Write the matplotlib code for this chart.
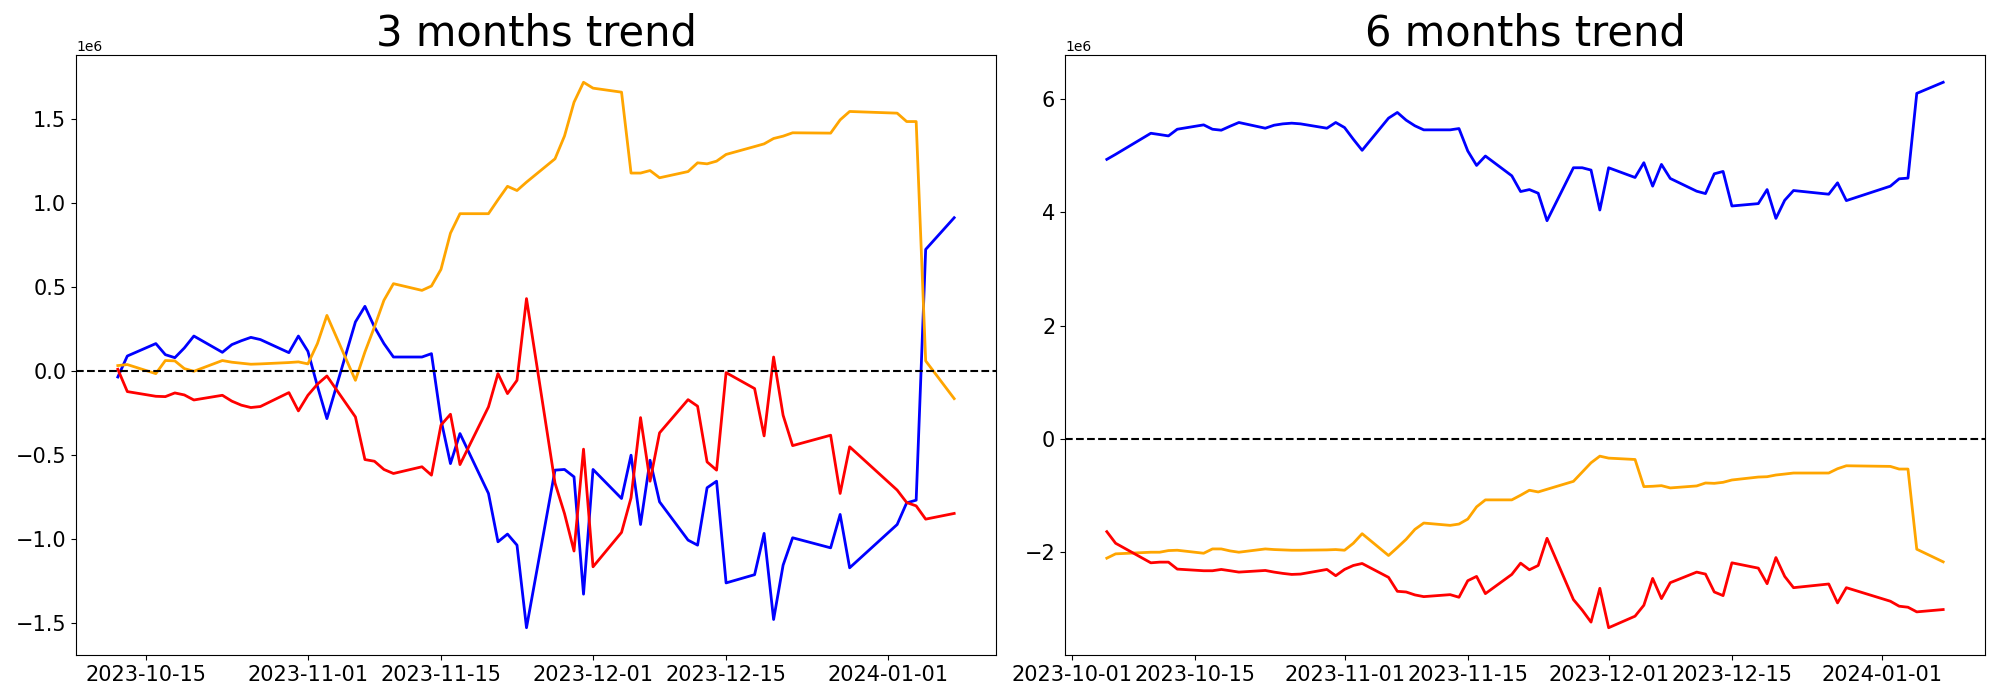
import matplotlib
matplotlib.use("Agg")
import matplotlib.pyplot as plt
import numpy as np
import pandas as pd

# ---------------- data (values in millions) ----------------
dates_3m = [
    "2023-10-12", "2023-10-13", "2023-10-16", "2023-10-17", "2023-10-18", "2023-10-19", "2023-10-20",
    "2023-10-23", "2023-10-24", "2023-10-25", "2023-10-26", "2023-10-27", "2023-10-30", "2023-10-31",
    "2023-11-01", "2023-11-02", "2023-11-03", "2023-11-06", "2023-11-07", "2023-11-08", "2023-11-09",
    "2023-11-10", "2023-11-13", "2023-11-14", "2023-11-15", "2023-11-16", "2023-11-17", "2023-11-20",
    "2023-11-21", "2023-11-22", "2023-11-23", "2023-11-24", "2023-11-27", "2023-11-28", "2023-11-29",
    "2023-11-30", "2023-12-01", "2023-12-04", "2023-12-05", "2023-12-06", "2023-12-07", "2023-12-08",
    "2023-12-11", "2023-12-12", "2023-12-13", "2023-12-14", "2023-12-15", "2023-12-18", "2023-12-19",
    "2023-12-20", "2023-12-21", "2023-12-22", "2023-12-26", "2023-12-27", "2023-12-28", "2024-01-02",
    "2024-01-03", "2024-01-04", "2024-01-05", "2024-01-08",
]

blue_3m = [
    -0.036, 0.089, 0.163, 0.097, 0.079, 0.137, 0.208, 0.111, 0.157, 0.180, 0.200, 0.187, 0.109, 0.208,
    0.117, -0.090, -0.284, 0.292, 0.385, 0.262, 0.163, 0.083, 0.083, 0.103, -0.290, -0.552, -0.373,
    -0.730, -1.018, -0.972, -1.038, -1.530, -0.591, -0.587, -0.631, -1.330, -0.587, -0.760, -0.502,
    -0.915, -0.532, -0.780, -1.008, -1.038, -0.696, -0.657, -1.263, -1.214, -0.968, -1.481, -1.157,
    -0.994, -1.054, -0.855, -1.173, -0.915, -0.786, -0.770, 0.724, 0.913,
]

orange_3m = [
    0.032, 0.038, -0.016, 0.062, 0.060, 0.014, -0.002, 0.062, 0.052, 0.046, 0.040, 0.042, 0.050, 0.054,
    0.042, 0.163, 0.331, -0.056, 0.113, 0.262, 0.421, 0.520, 0.480, 0.506, 0.605, 0.821, 0.937,
    0.937, 1.020, 1.100, 1.075, 1.125, 1.264, 1.400, 1.601, 1.720, 1.685, 1.661, 1.179,
    1.179, 1.194, 1.151, 1.188, 1.240, 1.234, 1.250, 1.290, 1.337, 1.353, 1.385, 1.399,
    1.419, 1.417, 1.496, 1.546, 1.536, 1.486, 1.486, 0.060, -0.165,
]

red_3m = [
    0.010, -0.123, -0.151, -0.153, -0.131, -0.143, -0.173, -0.145, -0.180, -0.204, -0.218, -0.212, -0.129, -0.238,
    -0.145, -0.079, -0.030, -0.274, -0.528, -0.538, -0.587, -0.611, -0.571, -0.621, -0.323, -0.258, -0.558,
    -0.214, -0.016, -0.135, -0.056, 0.431, -0.668, -0.850, -1.073, -0.466, -1.167, -0.962, -0.756,
    -0.278, -0.657, -0.369, -0.171, -0.210, -0.542, -0.591, -0.010, -0.105, -0.387, 0.083, -0.264,
    -0.445, -0.383, -0.730, -0.452, -0.710, -0.784, -0.804, -0.883, -0.849,
]

dates_6m = ["2023-10-05", "2023-10-06", "2023-10-10", "2023-10-11"] + dates_3m

blue_6m = [
    4.935, 5.024, 5.396, 5.373,
    5.349, 5.467, 5.544, 5.467, 5.450, 5.520, 5.586, 5.485, 5.538, 5.562, 5.574, 5.562, 5.485, 5.586,
    5.497, 5.290, 5.095, 5.663, 5.763, 5.627, 5.527, 5.456, 5.456, 5.479, 5.083, 4.828, 4.994,
    4.645, 4.367, 4.402, 4.337, 3.852, 4.787, 4.787, 4.746, 4.041, 4.787, 4.615, 4.876,
    4.462, 4.846, 4.598, 4.373, 4.331, 4.680, 4.722, 4.112, 4.154, 4.402, 3.893, 4.213,
    4.385, 4.320, 4.521, 4.207, 4.462, 4.592, 4.604, 6.100, 6.296,
]

orange_6m = [
    -2.105, -2.029, -2.000, -2.000,
    -1.971, -1.965, -2.018, -1.942, -1.942, -1.977, -2.000, -1.942, -1.953, -1.959, -1.965, -1.965, -1.959, -1.953,
    -1.965, -1.842, -1.673, -2.058, -1.918, -1.772, -1.596, -1.485, -1.526, -1.503, -1.415, -1.199, -1.076,
    -1.076, -0.994, -0.906, -0.936, -0.889, -0.749, -0.585, -0.421, -0.304, -0.339, -0.363, -0.842,
    -0.836, -0.825, -0.865, -0.830, -0.778, -0.784, -0.766, -0.725, -0.673, -0.667, -0.637, -0.620,
    -0.602, -0.602, -0.526, -0.474, -0.485, -0.532, -0.532, -1.947, -2.170,
]

red_6m = [
    -1.637, -1.842, -2.187, -2.175,
    -2.175, -2.298, -2.327, -2.327, -2.304, -2.327, -2.351, -2.322, -2.351, -2.374, -2.392, -2.386, -2.304, -2.415,
    -2.304, -2.234, -2.199, -2.444, -2.690, -2.702, -2.754, -2.784, -2.749, -2.795, -2.503, -2.427, -2.731,
    -2.392, -2.193, -2.310, -2.234, -1.754, -2.836, -3.023, -3.234, -2.637, -3.333, -3.129, -2.936,
    -2.462, -2.819, -2.538, -2.351, -2.386, -2.702, -2.766, -2.187, -2.281, -2.556, -2.094, -2.427,
    -2.626, -2.561, -2.895, -2.626, -2.865, -2.953, -2.971, -3.053, -3.012,
]

titles = ["3 months trend", "6 months trend"]
colors = ["blue", "orange", "red"]

# ---------------- plot ----------------
fig = plt.figure(figsize=(20, 7), dpi=100)
ax1 = fig.add_axes([76 / 2000, 45 / 700, 920 / 2000, 600 / 700])
ax2 = fig.add_axes([1065 / 2000, 45 / 700, 920 / 2000, 600 / 700])

panels = [
    (ax1, dates_3m, [blue_3m, orange_3m, red_3m], titles[0]),
    (ax2, dates_6m, [blue_6m, orange_6m, red_6m], titles[1]),
]

for ax, dates, series, title in panels:
    x = pd.to_datetime(dates)
    for vals, c in zip(series, colors):
        ax.plot(x, np.array(vals) * 1e6, color=c, linewidth=2)
    ax.axhline(0, color="black", linestyle="--", linewidth=1.5)
    ax.set_title(title, fontsize=30)
    ax.tick_params(axis="both", labelsize=15)

fig.savefig("out.png", dpi=100)
